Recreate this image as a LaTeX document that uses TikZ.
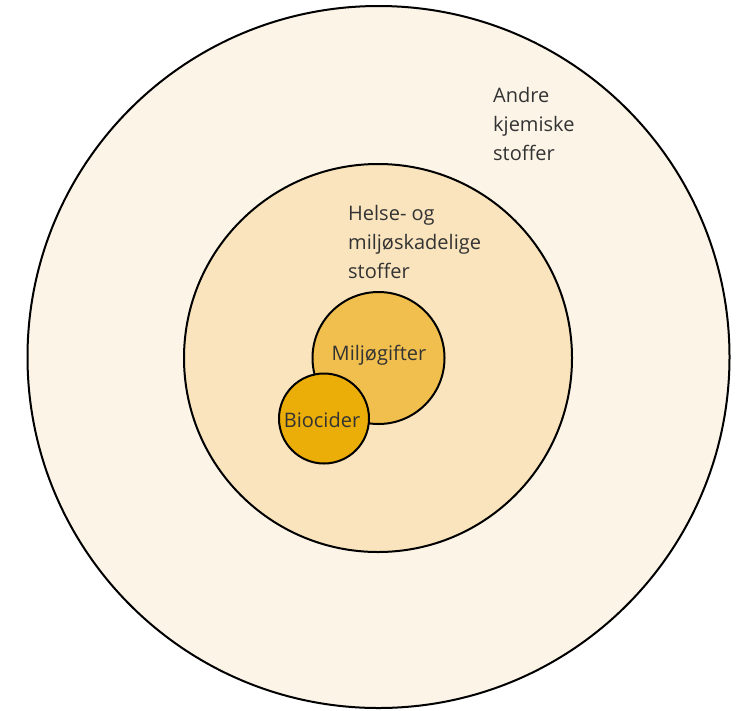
\documentclass[tikz,border=0pt]{standalone}
\usepackage{fontspec}
\setmainfont{Open Sans}
\definecolor{outerfill}{HTML}{FCF4E7}
\definecolor{innerfill}{HTML}{F9E4BD}
\definecolor{miljofill}{HTML}{F1BF4E}
\definecolor{biofill}{HTML}{EBAD07}
\definecolor{txt}{HTML}{333333}
\tikzset{
  ring/.style={circle, draw=black, line width=2pt, inner sep=0pt},
  lbl/.style={font=\fontsize{20}{29}\selectfont, text=txt, inner sep=0pt, align=left},
}
\begin{document}
\begin{tikzpicture}[x=1pt,y=-1pt]
\useasboundingbox (0,0) rectangle (743,710);
\fill[white] (0,0) rectangle (743,710);
\node[ring, fill=outerfill, minimum size=702pt] (outer) at (378.5,357) {};
\node[ring, fill=innerfill, minimum size=388pt] (inner) at (378,358) {};
\node[ring, fill=miljofill, minimum size=132pt] (miljo) at (378.5,358) {};
\node[ring, fill=biofill, minimum size=90pt] (bio) at (324,418.5) {};
\node[lbl, anchor=base west] (andre) at (493,160) {Andre\\kjemiske\\stoffer};
\node[lbl, anchor=base west] (helse) at (348,278) {Helse- og\\miljøskadelige\\stoffer};
\node[lbl, anchor=base] (miljotxt) at (379,360) {Miljøgifter};
\node[lbl, anchor=base] (biotxt) at (322,427) {Biocider};
\end{tikzpicture}
\end{document}
